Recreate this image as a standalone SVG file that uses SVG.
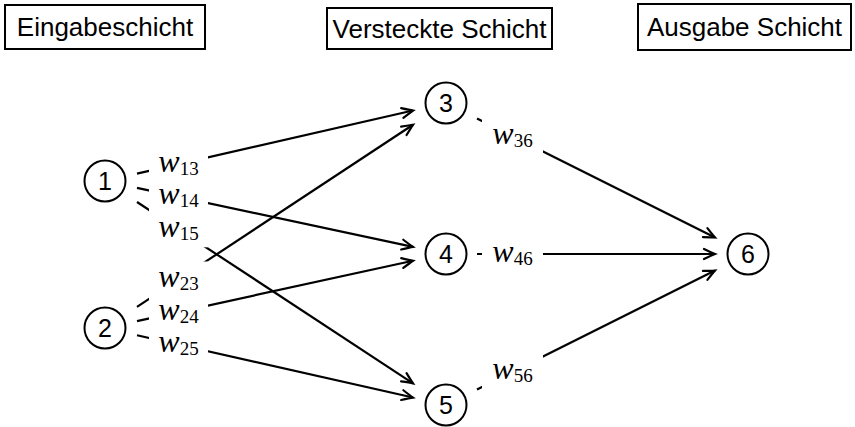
<svg xmlns="http://www.w3.org/2000/svg" width="855" height="427" viewBox="0 0 855 427">
<style>
.box{fill:#fff;stroke:#000;stroke-width:2}
.hdr{font-family:"Liberation Sans",Arial,sans-serif;font-size:26px;fill:#000}
.node{fill:#fff;stroke:#000;stroke-width:2}
.num{font-family:"Liberation Sans",Arial,sans-serif;font-size:25px;fill:#000;text-anchor:middle}
.edge{stroke:#000;stroke-width:2.2;fill:none;marker-end:url(#arr)}
.lblbg{fill:#fff;stroke:none}
.lbl{font-family:"Liberation Serif","Times New Roman",serif;font-style:italic;font-size:32px;fill:#000;text-anchor:middle}
.sub{font-style:normal;font-size:19px}
</style>
<defs>
<marker id="arr" markerUnits="userSpaceOnUse" viewBox="-13 -7 15 14" markerWidth="15" markerHeight="14" refX="0" refY="0" orient="auto" overflow="visible">
<path d="M-11,-5 Q-3,-1.2 0,0 Q-3,1.2 -11,5" fill="none" stroke="#000" stroke-width="2.2" stroke-linecap="round"/>
</marker>
</defs>
<rect width="855" height="427" fill="#fff"/>

<g id="header-input">
<rect class="box" x="5" y="5" width="200" height="44"/>
<text class="hdr" x="105" y="35.5" text-anchor="middle">Eingabeschicht</text>
</g>
<g id="header-hidden">
<rect class="box" x="327" y="8" width="225" height="41"/>
<text class="hdr" x="439.5" y="37.5" text-anchor="middle">Versteckte Schicht</text>
</g>
<g id="header-output">
<rect class="box" x="638" y="4" width="213" height="46"/>
<text class="hdr" x="744.5" y="35.5" text-anchor="middle">Ausgabe Schicht</text>
</g>

<g id="connectors">
<line class="edge" x1="137" y1="173.68" x2="413" y2="110.55"/>
<line class="edge" x1="137" y1="187.85" x2="413" y2="246.94"/>
<line class="edge" x1="137" y1="202.02" x2="413" y2="383.32"/>
<line class="edge" x1="137" y1="306.89" x2="413" y2="124.77"/>
<line class="edge" x1="137" y1="321.06" x2="413" y2="260.72"/>
<line class="edge" x1="137" y1="335.23" x2="413" y2="397.55"/>
<line class="edge" x1="477" y1="118.5" x2="715" y2="237.5"/>
<line class="edge" x1="477" y1="254" x2="715" y2="254"/>
<line class="edge" x1="477" y1="389.5" x2="715" y2="270.5"/>
</g>

<g id="connector-labels">
<rect class="lblbg" x="149" y="146.2" width="59" height="36"/>
<rect class="lblbg" x="149" y="178.7" width="59" height="36"/>
<rect class="lblbg" x="149" y="211.3" width="59" height="36"/>
<rect class="lblbg" x="149" y="261.5" width="59" height="36"/>
<rect class="lblbg" x="149" y="294.1" width="59" height="36"/>
<rect class="lblbg" x="149" y="326.6" width="59" height="36"/>
<rect class="lblbg" x="482" y="118.3" width="61" height="36"/>
<rect class="lblbg" x="482" y="236" width="61" height="36"/>
<rect class="lblbg" x="482" y="353.8" width="61" height="36"/>
<text class="lbl" x="178.5" y="171.7">w<tspan class="sub" dy="3">13</tspan></text>
<text class="lbl" x="178.5" y="204.2">w<tspan class="sub" dy="3">14</tspan></text>
<text class="lbl" x="178.5" y="236.8">w<tspan class="sub" dy="3">15</tspan></text>
<text class="lbl" x="178.5" y="287">w<tspan class="sub" dy="3">23</tspan></text>
<text class="lbl" x="178.5" y="319.6">w<tspan class="sub" dy="3">24</tspan></text>
<text class="lbl" x="178.5" y="352.1">w<tspan class="sub" dy="3">25</tspan></text>
<text class="lbl" x="512.5" y="143.8">w<tspan class="sub" dy="3">36</tspan></text>
<text class="lbl" x="512.5" y="261.5">w<tspan class="sub" dy="3">46</tspan></text>
<text class="lbl" x="512.5" y="379.3">w<tspan class="sub" dy="3">56</tspan></text>
</g>

<g id="node-1"><circle class="node" cx="105" cy="181" r="20.5"/><text class="num" x="105" y="190">1</text></g>
<g id="node-2"><circle class="node" cx="105" cy="328" r="20.5"/><text class="num" x="105" y="337">2</text></g>
<g id="node-3"><circle class="node" cx="446" cy="103" r="20.5"/><text class="num" x="446" y="112">3</text></g>
<g id="node-4"><circle class="node" cx="446" cy="254" r="20.5"/><text class="num" x="446" y="263">4</text></g>
<g id="node-5"><circle class="node" cx="446" cy="405" r="20.5"/><text class="num" x="446" y="414">5</text></g>
<g id="node-6"><circle class="node" cx="748" cy="254" r="20.5"/><text class="num" x="748" y="263">6</text></g>
</svg>
